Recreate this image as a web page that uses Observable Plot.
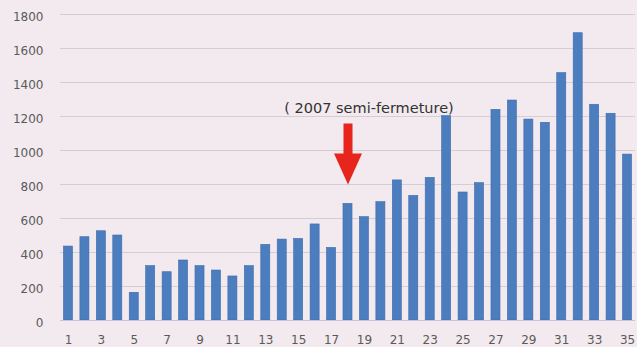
<!DOCTYPE html>
<html>
<head>
<meta charset="utf-8">
<script src="https://cdn.jsdelivr.net/npm/d3@7"></script>
<script src="https://cdn.jsdelivr.net/npm/@observablehq/plot@0.6"></script>
<style>
  html, body { margin: 0; padding: 0; background: #f2eaee; }
  #chart svg { display: block; }
</style>
</head>
<body>
<div id="chart"></div>
<script>
const periods = d3.range(1, 36);
const values = [435, 490, 525, 500, 163, 320, 284, 353, 320, 294,
                259, 320, 445, 476, 480, 565, 427, 686, 608, 696,
                824, 733, 839, 1202, 753, 808, 1239, 1294, 1182, 1163,
                1455, 1690, 1269, 1216, 976];
const yTicks = [0, 200, 400, 600, 800, 1000, 1200, 1400, 1600, 1800];
const annotationText = "( 2007 semi-fermeture)";
const annotationPeriod = 18;
const annotationTextY = 1250;
const arrowTipY = 800;

const data = periods.map((p, i) => ({period: p, value: values[i]}));

const fatArrow = {
  draw(context, l) {
    const sw = 4.5, hw = 14, hl = 31;
    context.moveTo(-sw, 0);
    context.lineTo(sw, 0);
    context.lineTo(sw, -l + hl);
    context.lineTo(hw, -l + hl);
    context.lineTo(0, -l);
    context.lineTo(-hw, -l + hl);
    context.lineTo(-sw, -l + hl);
    context.closePath();
  }
};

const font = "'DejaVu Sans', Verdana, sans-serif";

const chart = Plot.plot({
  width: 637,
  height: 347,
  marginLeft: 60,
  marginRight: 2,
  marginTop: 14,
  marginBottom: 27,
  style: {background: "#f2eaee", fontFamily: font, fontSize: "12px", color: "#5a5a5a"},
  x: {type: "band", domain: periods, paddingInner: 0.45, paddingOuter: 0.21, round: false, label: null,
      tickSize: 0, tickPadding: 15, tickFormat: d => d % 2 === 1 ? String(d) : ""},
  y: {domain: [0, 1800], ticks: yTicks, label: null},
  marks: [
    Plot.gridY(yTicks, {stroke: "#d6ccd1", strokeOpacity: 1, strokeWidth: 1}),
    Plot.axisY(yTicks, {tickSize: 0, tickPadding: 17, dy: 3, tickFormat: d => String(d), label: null}),
    Plot.barY(data, {x: "period", y: "value", fill: "#4c7dbf", stroke: "#3e6cab", strokeWidth: 0.6}),
    Plot.ruleY([0], {stroke: "#c9c3da", strokeWidth: 1}),
    Plot.text([annotationText], {x: () => annotationPeriod, y: () => annotationTextY, text: d => d,
      dx: 21, fontSize: 14.5, fill: "#333", fontFamily: font}),
    Plot.vector([{x: annotationPeriod, y: arrowTipY}], {x: "x", y: "y", length: 61, rotate: 180,
      anchor: "end", shape: fatArrow, fill: "#e8251c", stroke: "none"})
  ]
});
document.getElementById("chart").append(chart);
</script>
</body>
</html>
